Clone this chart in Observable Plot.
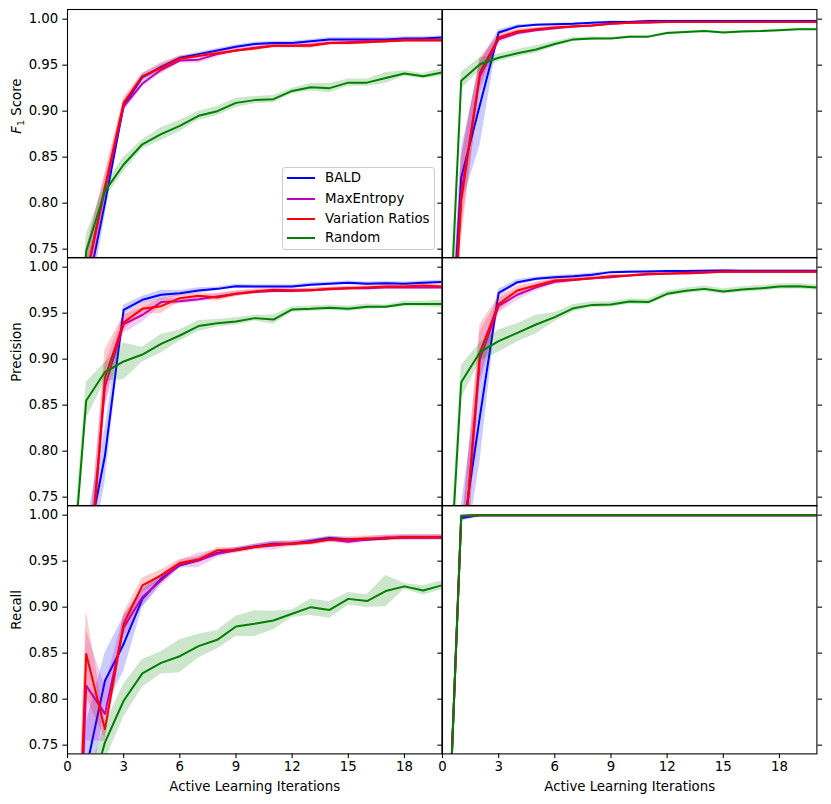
<!DOCTYPE html>
<html>
<head>
<meta charset="utf-8">
<script src="https://cdn.jsdelivr.net/npm/d3@7"></script>
<script src="https://cdn.jsdelivr.net/npm/@observablehq/plot@0.6"></script>
<style>
  body { margin: 0; background: #ffffff; font-family: "DejaVu Sans", sans-serif; }
  #fig { position: relative; width: 831px; height: 804px; overflow: hidden; background: #fff; }
  #fig svg { position: absolute; overflow: visible; }
  .legend { position: absolute; box-sizing: border-box; border: 1px solid #cccccc; border-radius: 3px;
            background: rgba(255,255,255,0.8); font-family: "DejaVu Sans", sans-serif; font-size: 13.33px; color: #000; z-index: 5; }
  .legend .ln { position: absolute; height: 2px; }
  .legend .tx { position: absolute; line-height: 16px; white-space: nowrap; }
</style>
</head>
<body>
<div id="fig"></div>
<script>
// ---------------- data ----------------
const ITER = [0,1,2,3,4,5,6,7,8,9,10,11,12,13,14,15,16,17,18,19,20];
const SERIES = ["BALD", "MaxEntropy", "Variation Ratios", "Random"];
const COLORS = ["#0000ff", "#bf00bf", "#ff0000", "#008000"];
const X_TICKS = [0, 3, 6, 9, 12, 15, 18];
const Y_TICKS = [0.75, 0.80, 0.85, 0.90, 0.95, 1.00];
const ROW_LABELS = ["F1 Score", "Precision", "Recall"];
const X_LABEL = "Active Learning Iterations";

// F1 score, left dataset
const F1_A_BALD      = [0.450,0.700,0.800,0.906,0.937,0.948,0.958,0.962,0.966,0.970,0.973,0.974,0.974,0.976,0.978,0.978,0.978,0.978,0.979,0.979,0.980];
const F1_A_BALD_SD   = [0.030,0.030,0.015,0.005,0.004,0.003,0.002,0.002,0.002,0.002,0.002,0.002,0.002,0.002,0.002,0.002,0.002,0.002,0.002,0.002,0.002];
const F1_A_MAXENT    = [0.450,0.720,0.815,0.905,0.930,0.945,0.955,0.956,0.962,0.966,0.969,0.971,0.971,0.972,0.974,0.975,0.976,0.976,0.977,0.977,0.977];
const F1_A_MAXENT_SD = [0.030,0.030,0.015,0.006,0.004,0.004,0.003,0.004,0.003,0.002,0.002,0.002,0.002,0.002,0.002,0.002,0.002,0.002,0.002,0.002,0.002];
const F1_A_VR        = [0.450,0.720,0.818,0.909,0.938,0.947,0.957,0.960,0.963,0.966,0.968,0.971,0.971,0.971,0.974,0.974,0.975,0.976,0.977,0.977,0.977];
const F1_A_VR_SD     = [0.030,0.030,0.015,0.006,0.003,0.006,0.003,0.002,0.002,0.002,0.002,0.002,0.002,0.003,0.002,0.002,0.002,0.002,0.002,0.002,0.002];
const F1_A_RAND      = [0.450,0.748,0.813,0.842,0.864,0.875,0.884,0.895,0.900,0.909,0.912,0.913,0.922,0.926,0.925,0.931,0.931,0.936,0.941,0.938,0.942];
const F1_A_RAND_SD   = [0.030,0.018,0.008,0.008,0.005,0.007,0.006,0.005,0.005,0.005,0.004,0.004,0.003,0.004,0.005,0.004,0.004,0.006,0.003,0.003,0.004];

// F1 score, right dataset
const F1_B_BALD      = [0.480,0.828,0.907,0.9855,0.992,0.994,0.9945,0.995,0.996,0.997,0.997,0.998,0.998,0.998,0.998,0.998,0.998,0.998,0.998,0.998,0.998];
const F1_B_BALD_SD   = [0.030,0.030,0.045,0.003,0.002,0.001,0.001,0.001,0.001,0.001,0.001,0.001,0.001,0.001,0.001,0.001,0.001,0.001,0.001,0.001,0.001];
const F1_B_MAXENT    = [0.450,0.810,0.938,0.978,0.985,0.988,0.990,0.992,0.993,0.995,0.996,0.996,0.997,0.997,0.997,0.997,0.997,0.997,0.997,0.997,0.997];
const F1_B_MAXENT_SD = [0.030,0.040,0.018,0.004,0.003,0.002,0.002,0.001,0.001,0.001,0.001,0.001,0.001,0.001,0.001,0.001,0.001,0.001,0.001,0.001,0.001];
const F1_B_VR        = [0.450,0.8025,0.942,0.980,0.9866,0.989,0.991,0.992,0.993,0.995,0.996,0.997,0.997,0.997,0.997,0.997,0.997,0.997,0.997,0.997,0.997];
const F1_B_VR_SD     = [0.030,0.045,0.016,0.004,0.003,0.002,0.002,0.001,0.001,0.001,0.001,0.001,0.001,0.001,0.001,0.001,0.001,0.001,0.001,0.001,0.001];
const F1_B_RAND      = [0.490,0.933,0.951,0.958,0.963,0.967,0.973,0.978,0.979,0.979,0.981,0.981,0.985,0.986,0.987,0.9855,0.9866,0.987,0.988,0.989,0.989];
const F1_B_RAND_SD   = [0.030,0.009,0.007,0.004,0.004,0.004,0.003,0.002,0.002,0.001,0.001,0.001,0.001,0.001,0.001,0.001,0.001,0.001,0.001,0.001,0.001];

// Precision, left dataset
const P_A_BALD       = [0.400,0.690,0.795,0.9536,0.9645,0.970,0.9717,0.9746,0.9764,0.9793,0.979,0.979,0.979,0.981,0.982,0.983,0.982,0.9826,0.982,0.983,0.984];
const P_A_BALD_SD    = [0.030,0.030,0.030,0.005,0.004,0.005,0.003,0.003,0.002,0.002,0.002,0.002,0.002,0.002,0.002,0.002,0.002,0.002,0.002,0.002,0.002];
const P_A_MAXENT     = [0.400,0.640,0.870,0.938,0.948,0.962,0.963,0.965,0.968,0.971,0.973,0.974,0.974,0.975,0.976,0.977,0.977,0.978,0.978,0.978,0.978];
const P_A_MAXENT_SD  = [0.030,0.030,0.025,0.010,0.008,0.004,0.003,0.003,0.003,0.003,0.002,0.002,0.002,0.002,0.002,0.002,0.002,0.002,0.002,0.002,0.002];
const P_A_VR         = [0.400,0.620,0.880,0.940,0.9547,0.9576,0.9663,0.969,0.967,0.971,0.9736,0.9754,0.975,0.975,0.9764,0.977,0.978,0.979,0.979,0.980,0.979];
const P_A_VR_SD      = [0.030,0.040,0.030,0.008,0.006,0.008,0.004,0.003,0.004,0.003,0.003,0.002,0.002,0.002,0.002,0.002,0.002,0.002,0.002,0.002,0.002];
const P_A_RAND       = [0.600,0.855,0.886,0.8975,0.905,0.9167,0.9257,0.936,0.939,0.941,0.9446,0.943,0.954,0.9547,0.956,0.9547,0.957,0.957,0.960,0.960,0.960];
const P_A_RAND_SD    = [0.020,0.020,0.010,0.020,0.008,0.010,0.006,0.006,0.004,0.004,0.003,0.005,0.003,0.003,0.003,0.003,0.003,0.002,0.003,0.003,0.004];

// Precision, right dataset
const P_B_BALD       = [0.450,0.700,0.838,0.972,0.9837,0.9873,0.989,0.990,0.9917,0.9946,0.995,0.9953,0.9957,0.9957,0.996,0.9964,0.996,0.996,0.996,0.996,0.996];
const P_B_BALD_SD    = [0.030,0.040,0.050,0.004,0.003,0.002,0.002,0.002,0.002,0.001,0.001,0.001,0.001,0.001,0.001,0.001,0.001,0.001,0.001,0.001,0.001];
const P_B_MAXENT     = [0.450,0.660,0.900,0.958,0.970,0.978,0.984,0.986,0.988,0.989,0.991,0.992,0.993,0.993,0.994,0.995,0.995,0.995,0.995,0.995,0.995];
const P_B_MAXENT_SD  = [0.030,0.050,0.030,0.008,0.006,0.004,0.003,0.002,0.002,0.002,0.001,0.001,0.001,0.001,0.001,0.001,0.001,0.001,0.001,0.001,0.001];
const P_B_VR         = [0.450,0.655,0.9076,0.960,0.9746,0.980,0.9855,0.9866,0.988,0.990,0.991,0.9928,0.9928,0.9938,0.9946,0.995,0.995,0.995,0.995,0.995,0.995];
const P_B_VR_SD      = [0.030,0.050,0.030,0.008,0.005,0.004,0.003,0.002,0.002,0.002,0.001,0.001,0.001,0.001,0.001,0.001,0.001,0.001,0.001,0.001,0.001];
const P_B_RAND       = [0.520,0.875,0.9076,0.9196,0.9286,0.9377,0.9457,0.9554,0.959,0.9594,0.9627,0.962,0.971,0.9743,0.9764,0.9736,0.9757,0.977,0.979,0.9793,0.978];
const P_B_RAND_SD    = [0.030,0.018,0.010,0.012,0.010,0.010,0.005,0.004,0.003,0.003,0.003,0.003,0.003,0.003,0.003,0.003,0.003,0.003,0.003,0.003,0.003];

// Recall, left dataset
const R_A_BALD       = [0.350,0.724,0.820,0.860,0.909,0.931,0.9455,0.951,0.959,0.9626,0.966,0.969,0.969,0.972,0.9753,0.9735,0.9735,0.9746,0.976,0.9757,0.9757];
const R_A_BALD_SD    = [0.050,0.050,0.030,0.030,0.010,0.005,0.003,0.003,0.003,0.002,0.002,0.002,0.002,0.002,0.002,0.002,0.002,0.002,0.002,0.002,0.002];
const R_A_MAXENT     = [0.300,0.8147,0.784,0.878,0.911,0.929,0.9466,0.951,0.958,0.9618,0.9655,0.967,0.969,0.971,0.9735,0.971,0.9735,0.9757,0.9757,0.9757,0.976];
const R_A_MAXENT_SD  = [0.050,0.060,0.030,0.012,0.010,0.006,0.004,0.008,0.004,0.003,0.003,0.005,0.003,0.003,0.003,0.003,0.003,0.003,0.003,0.003,0.003];
const R_A_VR         = [0.300,0.849,0.7674,0.882,0.9237,0.9346,0.948,0.9517,0.9618,0.9618,0.9655,0.9684,0.969,0.970,0.9735,0.9735,0.9746,0.975,0.976,0.976,0.976];
const R_A_VR_SD      = [0.050,0.047,0.010,0.012,0.008,0.006,0.004,0.003,0.003,0.003,0.003,0.003,0.003,0.003,0.003,0.003,0.003,0.003,0.003,0.003,0.003];
const R_A_RAND       = [0.400,0.680,0.753,0.7983,0.828,0.8394,0.8467,0.8576,0.8645,0.879,0.882,0.8855,0.8928,0.900,0.897,0.909,0.9066,0.9175,0.9226,0.9182,0.9237];
const R_A_RAND_SD    = [0.030,0.030,0.020,0.018,0.015,0.012,0.018,0.013,0.010,0.011,0.014,0.010,0.004,0.009,0.009,0.007,0.007,0.017,0.003,0.005,0.005];

// Recall, right dataset
const R_B_BALD       = [0.480,0.997,1.000,1.000,1.000,1.000,1.000,1.000,1.000,1.000,1.000,1.000,1.000,1.000,1.000,1.000,1.000,1.000,1.000,1.000,1.000];
const R_B_BALD_SD    = [0.030,0.004,0.001,0.000,0.000,0.000,0.000,0.000,0.000,0.000,0.000,0.000,0.000,0.000,0.000,0.000,0.000,0.000,0.000,0.000,0.000];
const R_B_MAXENT     = [0.480,0.999,1.000,1.000,1.000,1.000,1.000,1.000,1.000,1.000,1.000,1.000,1.000,1.000,1.000,1.000,1.000,1.000,1.000,1.000,1.000];
const R_B_MAXENT_SD  = [0.030,0.001,0.000,0.000,0.000,0.000,0.000,0.000,0.000,0.000,0.000,0.000,0.000,0.000,0.000,0.000,0.000,0.000,0.000,0.000,0.000];
const R_B_VR         = [0.480,0.999,1.000,1.000,1.000,1.000,1.000,1.000,1.000,1.000,1.000,1.000,1.000,1.000,1.000,1.000,1.000,1.000,1.000,1.000,1.000];
const R_B_VR_SD      = [0.030,0.001,0.000,0.000,0.000,0.000,0.000,0.000,0.000,0.000,0.000,0.000,0.000,0.000,0.000,0.000,0.000,0.000,0.000,0.000,0.000];
const R_B_RAND       = [0.480,0.999,1.000,1.000,1.000,1.000,1.000,1.000,1.000,1.000,1.000,1.000,1.000,1.000,1.000,1.000,1.000,1.000,1.000,1.000,1.000];
const R_B_RAND_SD    = [0.030,0.001,0.000,0.000,0.000,0.000,0.000,0.000,0.000,0.000,0.000,0.000,0.000,0.000,0.000,0.000,0.000,0.000,0.000,0.000,0.000];

// ---------------- layout ----------------
const FRAME_X = [67.3, 441.7];
const FRAME_W = 374.4;
const FRAME_Y = [8.6, 257.0, 505.4];
const FRAME_H = 248.4;
const Y_DOMAIN = [0.7405, 1.0105];
const M = {left: 70, right: 30, top: 12, bottom: 50};
const FONT = 13.33;
const TICK = 4.7;

const PANELS = [
  {row: 0, col: 0, series: [[F1_A_BALD, F1_A_BALD_SD], [F1_A_MAXENT, F1_A_MAXENT_SD], [F1_A_VR, F1_A_VR_SD], [F1_A_RAND, F1_A_RAND_SD]]},
  {row: 0, col: 1, series: [[F1_B_BALD, F1_B_BALD_SD], [F1_B_MAXENT, F1_B_MAXENT_SD], [F1_B_VR, F1_B_VR_SD], [F1_B_RAND, F1_B_RAND_SD]]},
  {row: 1, col: 0, series: [[P_A_BALD, P_A_BALD_SD], [P_A_MAXENT, P_A_MAXENT_SD], [P_A_VR, P_A_VR_SD], [P_A_RAND, P_A_RAND_SD]]},
  {row: 1, col: 1, series: [[P_B_BALD, P_B_BALD_SD], [P_B_MAXENT, P_B_MAXENT_SD], [P_B_VR, P_B_VR_SD], [P_B_RAND, P_B_RAND_SD]]},
  {row: 2, col: 0, series: [[R_A_BALD, R_A_BALD_SD], [R_A_MAXENT, R_A_MAXENT_SD], [R_A_VR, R_A_VR_SD], [R_A_RAND, R_A_RAND_SD]]},
  {row: 2, col: 1, series: [[R_B_BALD, R_B_BALD_SD], [R_B_MAXENT, R_B_MAXENT_SD], [R_B_VR, R_B_VR_SD], [R_B_RAND, R_B_RAND_SD]]}
];

const fig = document.getElementById("fig");

for (const p of PANELS) {
  const marks = [];
  p.series.forEach(([mean, sd], k) => {
    const rows = ITER.map((x, i) => ({x, y: mean[i], lo: mean[i] - sd[i], hi: mean[i] + sd[i]}));
    marks.push(Plot.areaY(rows, {x: "x", y1: "lo", y2: "hi", fill: COLORS[k], fillOpacity: 0.2, clip: true}));
    marks.push(Plot.line(rows, {x: "x", y: "y", stroke: COLORS[k], strokeWidth: 2, clip: true}));
  });
  marks.push(Plot.frame({stroke: "#000", strokeWidth: 1.07}));

  if (p.col === 0) {
    marks.push(Plot.axisY({anchor: "left", ticks: Y_TICKS, tickFormat: d => d.toFixed(2), tickSize: TICK, tickPadding: 4.5,
                           strokeWidth: 1.07, fontSize: FONT, label: null}));
    marks.push(Plot.text([ROW_LABELS[p.row]], {frameAnchor: "left", dx: -50.3, rotate: -90, text: d => d, fontSize: FONT}));
  } else {
    marks.push(Plot.axisY({anchor: "left", ticks: Y_TICKS, tickFormat: () => "", tickSize: TICK, strokeWidth: 1.07, label: null}));
    marks.push(Plot.axisY({anchor: "right", ticks: Y_TICKS, tickFormat: () => "", tickSize: TICK, strokeWidth: 1.07, label: null}));
  }
  if (p.row === 2) {
    marks.push(Plot.axisX({ticks: X_TICKS, tickSize: TICK, tickPadding: 3.3, strokeWidth: 1.07, fontSize: FONT, label: null}));
    marks.push(Plot.text([X_LABEL], {frameAnchor: "bottom", dy: 37, text: d => d, fontSize: FONT}));
  }

  const svg = Plot.plot({
    width: FRAME_W + M.left + M.right,
    height: FRAME_H + M.top + M.bottom,
    marginLeft: M.left, marginRight: M.right, marginTop: M.top, marginBottom: M.bottom,
    x: {domain: [0, 20], label: null, axis: p.row === 2 ? undefined : null},
    y: {domain: Y_DOMAIN, label: null},
    style: {fontFamily: "DejaVu Sans, sans-serif", fontSize: FONT + "px", color: "#000", background: "transparent", overflow: "visible"},
    marks
  });
  svg.style.left = (FRAME_X[p.col] - M.left) + "px";
  svg.style.top = (FRAME_Y[p.row] - M.top) + "px";
  fig.appendChild(svg);

  // italic F with subscript 1 for the F1 label
  d3.select(svg).selectAll("text").each(function () {
    if (this.textContent === "F1 Score") {
      const t = d3.select(this);
      t.text(null);
      t.append("tspan").attr("font-style", "italic").text("F");
      t.append("tspan").attr("font-size", "9.5px").attr("dy", "3").text("1");
      t.append("tspan").attr("dy", "-3").text(" Score");
    }
  });
}

// legend (upper-left panel)
const LEG = {left: 281.7, top: 167.3, width: 153.3, height: 82.7};
const legend = document.createElement("div");
legend.className = "legend";
Object.assign(legend.style, {left: LEG.left + "px", top: LEG.top + "px", width: LEG.width + "px", height: LEG.height + "px"});
const LEG_CENTERS = [11, 31.7, 51.7, 71];
SERIES.forEach((name, k) => {
  const ln = document.createElement("div");
  ln.className = "ln";
  Object.assign(ln.style, {left: "4px", width: "28px", top: (LEG_CENTERS[k] - 2) + "px", background: COLORS[k]});
  legend.appendChild(ln);
  const tx = document.createElement("div");
  tx.className = "tx";
  Object.assign(tx.style, {left: "42.3px", top: (LEG_CENTERS[k] - 9) + "px"});
  tx.textContent = name;
  legend.appendChild(tx);
});
fig.appendChild(legend);
</script>
</body>
</html>
